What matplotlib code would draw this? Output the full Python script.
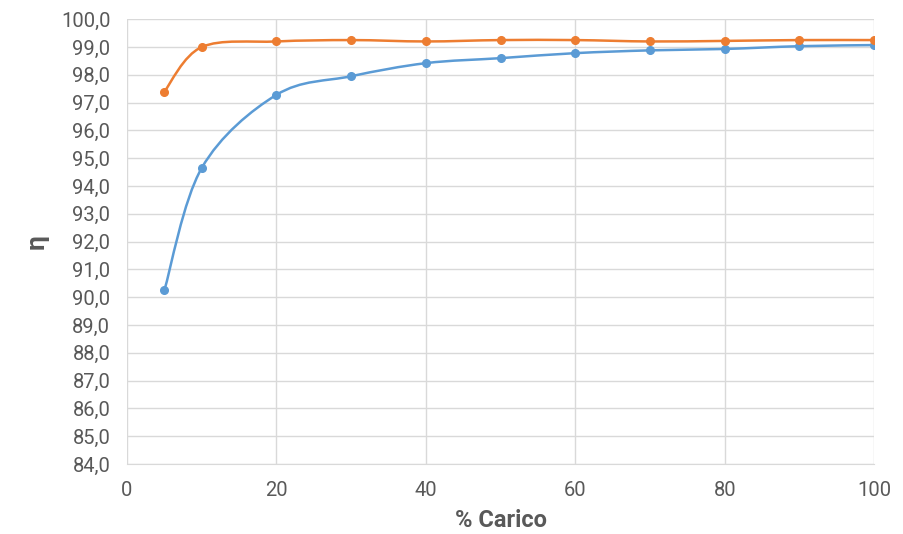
import numpy as np
import matplotlib
matplotlib.use("Agg")
import matplotlib.pyplot as plt
from matplotlib.path import Path
from matplotlib.patches import PathPatch
from matplotlib.ticker import FuncFormatter, MultipleLocator

plt.rcParams['font.family'] = ['Roboto', 'DejaVu Sans']

# data
carico = [5, 10, 20, 30, 40, 50, 60, 70, 80, 90, 100]
eta_orange = [97.4, 99.0, 99.2, 99.25, 99.2, 99.25, 99.25, 99.2, 99.22, 99.25, 99.25]
eta_blue = [90.25, 94.65, 97.28, 97.95, 98.42, 98.6, 98.78, 98.88, 98.93, 99.03, 99.07]

ORANGE = '#ED7D31'
BLUE = '#5B9BD5'
GRID = '#D9D9D9'
TEXT = '#595959'


def smooth_path(x, y):
    # Excel-like smoothed line: cubic Bezier through the points
    p = np.column_stack([x, y]).astype(float)
    n = len(p)
    verts = [p[0]]
    codes = [Path.MOVETO]
    for i in range(n - 1):
        p0 = p[i - 1] if i > 0 else p[i]
        p3 = p[i + 2] if i + 2 < n else p[i + 1]
        c1 = p[i] + (p[i + 1] - p0) / 6
        c2 = p[i + 1] - (p3 - p[i]) / 6
        verts += [c1, c2, p[i + 1]]
        codes += [Path.CURVE4] * 3
    return Path(verts, codes)


fig = plt.figure(figsize=(9.04, 5.34), dpi=100)
ax = fig.add_axes([0.1405, 0.131, 0.8265, 0.833])

for ys, col in [(eta_blue, BLUE), (eta_orange, ORANGE)]:
    ax.add_patch(PathPatch(smooth_path(carico, ys), facecolor='none',
                           edgecolor=col, lw=1.8, zorder=3))
    ax.plot(carico, ys, linestyle='none', marker='o', ms=5.5,
            color=col, zorder=4)

ax.set_xlim(0, 100)
ax.set_ylim(84, 100)
ax.xaxis.set_major_locator(MultipleLocator(20))
ax.yaxis.set_major_locator(MultipleLocator(1))
ax.yaxis.set_major_formatter(FuncFormatter(lambda v, _: f'{v:.1f}'.replace('.', ',')))

ax.grid(True, color=GRID, lw=1)
ax.set_axisbelow(True)
for side in ['top', 'right', 'left']:
    ax.spines[side].set_visible(False)
ax.spines['bottom'].set_color(GRID)
ax.tick_params(length=0, labelsize=14.5, colors=TEXT)
ax.tick_params(axis='x', pad=12)
ax.tick_params(axis='y', pad=12)

ax.set_xlabel('% Carico', fontsize=17, fontweight='bold', color=TEXT, labelpad=7)
ax.set_ylabel('η', fontsize=19, fontweight='bold', color=TEXT, labelpad=9)

fig.savefig('out.png', dpi=100)
